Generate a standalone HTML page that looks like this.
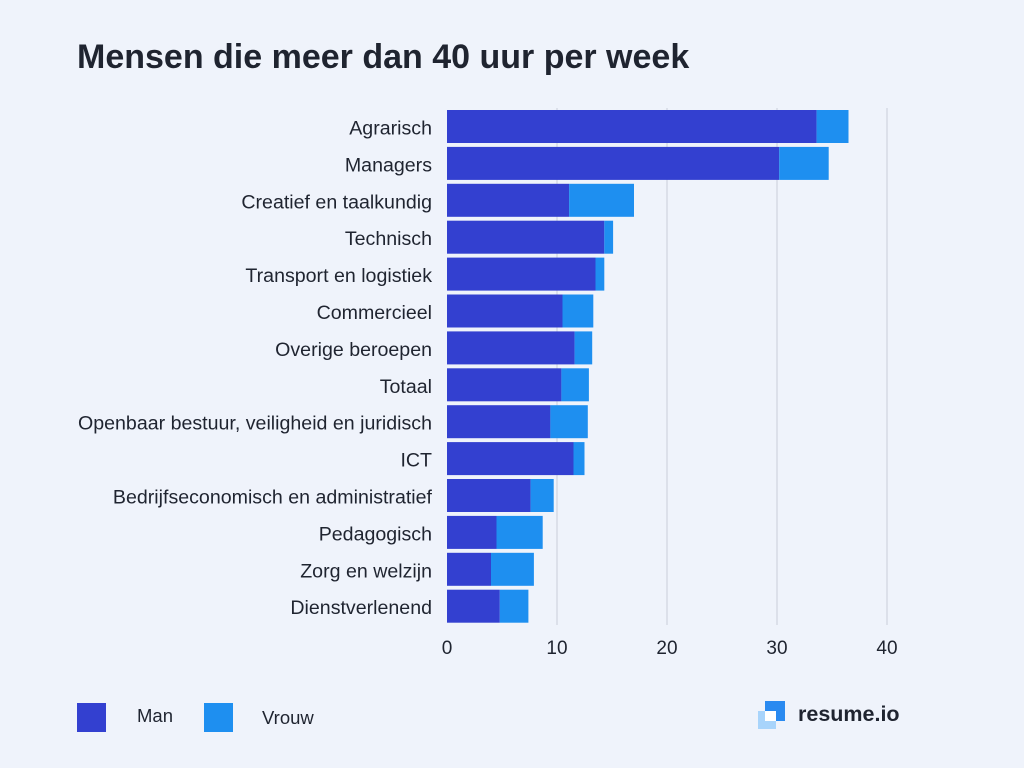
<!DOCTYPE html>
<html><head><meta charset="utf-8"><style>
body{margin:0;background:#eff3fb;font-family:"Liberation Sans",sans-serif;}
#wrap{position:relative;width:1024px;height:768px;overflow:hidden;background:#eff3fb}
</style></head><body>
<div id="wrap">
<svg id="chart" width="1024" height="768">
<text x="77" y="68" font-size="34" font-weight="bold" fill="#1f2430">Mensen die meer dan 40 uur per week</text>
<g id="grid"></g><g id="bars"></g><g id="labels"></g><g id="ticks"></g>
<rect x="77" y="703" width="29" height="29" fill="#3340d0"/>
<text x="137" y="722" font-size="18.5" fill="#1f2430">Man</text>
<rect x="204" y="703" width="29" height="29" fill="#1e8ff0"/>
<text x="262" y="724" font-size="18.5" fill="#1f2430">Vrouw</text>
<g>
<rect x="758" y="711" width="18" height="18" fill="#a8d4fb"/>
<rect x="765" y="701" width="20" height="20" fill="#2a8af0"/>
<path d="M765 711 h11 v10 h-11 z" fill="#ffffff"/>
<text x="798" y="721" font-size="21.5" font-weight="bold" fill="#1f2430">resume.io</text>
</g>
</svg>
</div>
<script>
const categories=["Agrarisch","Managers","Creatief en taalkundig","Technisch","Transport en logistiek","Commercieel","Overige beroepen","Totaal","Openbaar bestuur, veiligheid en juridisch","ICT","Bedrijfseconomisch en administratief","Pedagogisch","Zorg en welzijn","Dienstverlenend"];
const manValues=[33.6,30.2,11.1,14.3,13.5,10.5,11.6,10.4,9.4,11.5,7.6,4.5,4.0,4.8];
const vrouwValues=[2.9,4.5,5.9,0.8,0.8,2.8,1.6,2.5,3.4,1.0,2.1,4.2,3.9,2.6];
const tickLabels=[0,10,20,30,40];
const NS="http://www.w3.org/2000/svg";
const x0=447,scale=11,y0=110,pitch=36.9,bh=33;
const xs=v=>x0+v*scale;
const ys=i=>y0+i*pitch;
function mk(tag,attrs,parent){const e=document.createElementNS(NS,tag);for(const k in attrs)e.setAttribute(k,attrs[k]);document.getElementById(parent).appendChild(e);return e;}
tickLabels.forEach(t=>{
 if(t>0){const l=mk('line',{x1:xs(t),x2:xs(t),y1:108,y2:625,stroke:'#c9cdd8','stroke-width':1},'grid');
 
 }
 const tx=mk('text',{x:xs(t),y:654,'font-size':19,fill:'#1f2430','text-anchor':'middle'},'ticks');
 tx.textContent=t;
 
 
});
categories.forEach((c,i)=>{
 const y=ys(i);
 const m=mk('rect',{x:xs(0),y:y,width:xs(manValues[i])-xs(0),height:bh,fill:'#3340d0'},'bars');
 
 
 const v=mk('rect',{x:xs(manValues[i]),y:y,width:xs(manValues[i]+vrouwValues[i])-xs(manValues[i]),height:bh,fill:'#1e8ff0'},'bars');
 
 
 const t=mk('text',{x:432,y:y+bh/2+8,'font-size':19.6,fill:'#1f2430','text-anchor':'end'},'labels');
 t.textContent=c;
 
 
});
</script>
</body></html>
